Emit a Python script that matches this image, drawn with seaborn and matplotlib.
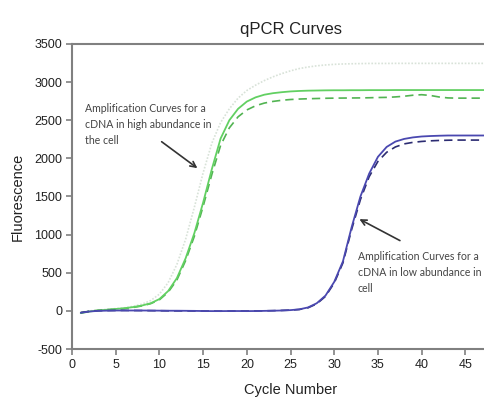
import matplotlib
matplotlib.use("Agg")
import matplotlib.pyplot as plt
import seaborn as sns
import pandas as pd

cycles = list(range(1, 49))

green_solid = [-30, -8, 5, 15, 25, 35, 50, 70, 100, 155, 260, 430, 690, 1020, 1420, 1860,
               2260, 2500, 2650, 2745, 2800, 2835, 2855, 2868, 2878, 2884, 2888, 2890, 2892, 2893,
               2893, 2894, 2894, 2895, 2895, 2895, 2896, 2896, 2896, 2896, 2896, 2896, 2896, 2896,
               2896, 2896, 2896, 2896]
green_dashed = [-25, -5, 8, 15, 22, 30, 45, 65, 95, 145, 245, 405, 660, 980, 1370, 1790,
               2170, 2400, 2545, 2635, 2690, 2725, 2747, 2762, 2772, 2778, 2782, 2785, 2788, 2790,
               2791, 2792, 2793, 2795, 2798, 2800, 2806, 2815, 2828, 2835, 2825, 2805, 2793, 2790,
               2790, 2790, 2790, 2790]
light_dotted = [-20, 0, 10, 20, 30, 40, 60, 88, 135, 220, 370, 610, 940, 1360, 1810, 2200,
                2470, 2650, 2790, 2890, 2960, 3020, 3070, 3112, 3148, 3178, 3198, 3214, 3225, 3233,
                3238, 3241, 3243, 3245, 3245, 3245, 3246, 3246, 3246, 3246, 3246, 3246, 3246, 3246,
                3246, 3246, 3246, 3246]
blue_solid = [-25, -8, 0, 3, 5, 5, 5, 5, 4, 3, 2, 2, 1, 0, -2, -3,
              -3, -2, -2, -3, -2, 0, 2, 5, 10, 20, 45, 100, 200, 380, 650, 1100,
              1500, 1800, 2020, 2150, 2220, 2255, 2275, 2287, 2293, 2297, 2300, 2300, 2300, 2300,
              2300, 2300]
blue_dashed = [-22, -6, 2, 4, 5, 6, 5, 4, 3, 2, 1, 0, 0, -1, -2, -3,
               -4, -3, -2, -2, -1, 1, 3, 6, 10, 18, 40, 92, 190, 365, 630, 1070,
               1460, 1760, 1960, 2080, 2150, 2190, 2210, 2222, 2230, 2235, 2238, 2240, 2240, 2240,
               2240, 2240]

yticks = [-500, 0, 500, 1000, 1500, 2000, 2500, 3000, 3500]
xticks = [0, 5, 10, 15, 20, 25, 30, 35, 40, 45]

title = "qPCR Curves"
xlabel = "Cycle Number"
ylabel = "Fluorescence"
note_high = "Amplification Curves for a\ncDNA in high abundance in\nthe cell"
note_low = "Amplification Curves for a\ncDNA in low abundance in\ncell"

sns.set_style("white")
plt.rcParams["font.family"] = ["Liberation Sans", "DejaVu Sans"]

fig = plt.figure(figsize=(4.85, 4.07), dpi=100)
ax = fig.add_axes([0.1485, 0.1425, 0.901, 0.7494])

series = [
    (light_dotted, "#d8e2d8", (0, (1, 1)), 1.2),
    (green_dashed, "#52b452", (0, (5, 3)), 1.2),
    (green_solid, "#62d062", "-", 1.3),
    (blue_dashed, "#2c2c72", (0, (5, 3)), 1.2),
    (blue_solid, "#4a48b0", "-", 1.3),
]
for vals, col, ls, lw in series:
    sns.lineplot(x=cycles, y=vals, ax=ax, color=col, linestyle=ls, linewidth=lw)

ax.set_xlim(0, 50)
ax.set_ylim(-500, 3500)
ax.set_xticks(xticks)
ax.set_yticks(yticks)
ax.set_xticklabels([str(t) for t in xticks], fontsize=9, color="#222222")
ax.set_yticklabels([str(t) for t in yticks], fontsize=9, color="#222222")
ax.tick_params(axis="both", direction="out", length=4, width=1.2, color="#808080",
               bottom=True, left=True, pad=3)
for s in ["left", "bottom", "top"]:
    ax.spines[s].set_color("#808080")
    ax.spines[s].set_linewidth(1.5)
ax.spines["right"].set_visible(False)

ax.set_title(title, fontsize=12, color="#222222", pad=7)
ax.set_xlabel(xlabel, fontsize=10.5, color="#222222", labelpad=9)
ax.set_ylabel(ylabel, fontsize=10.5, color="#222222", labelpad=7)

note_font = ["Lato", "DejaVu Sans"]
ax.text(1.5, 2720, note_high, fontsize=7.6, family=note_font, color="#444444",
        va="top", ha="left", linespacing=1.55)
ax.annotate("", xy=(14.6, 1850), xytext=(10.0, 2240),
            arrowprops=dict(arrowstyle="->", color="#333333", lw=1.2))
ax.text(32.7, 780, note_low, fontsize=7.6, family=note_font, color="#444444",
        va="top", ha="left", linespacing=1.55)
ax.annotate("", xy=(32.6, 1220), xytext=(37.8, 905),
            arrowprops=dict(arrowstyle="->", color="#333333", lw=1.2))

fig.savefig("out.png", dpi=100)
